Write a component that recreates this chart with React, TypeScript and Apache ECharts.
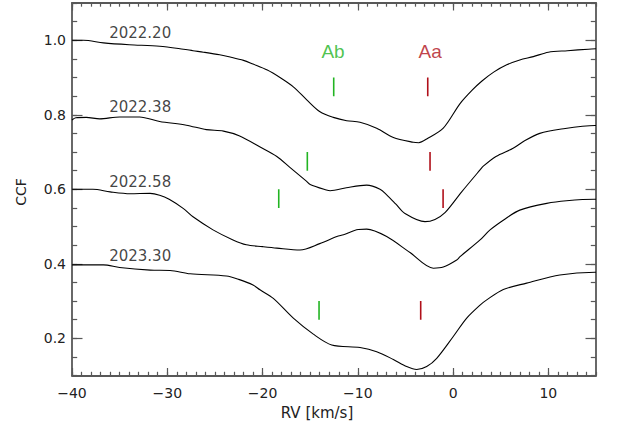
import React, { useEffect, useRef } from "react";
import * as echarts from "echarts";

// Axis ranges and tick positions
const rvMin = -40;
const rvMax = 15;
const ccfMin = 0.1;
const ccfMax = 1.1;
const rvMajorTicks = [-40, -30, -20, -10, 0, 10];
const ccfMajorTicks = [0.2, 0.4, 0.6, 0.8, 1.0];

// Cross-correlation functions, one per epoch (RV in km/s, CCF value; offset curves)
const epochs = ["2022.20", "2022.38", "2022.58", "2023.30"];

const ccf2022_20: [number, number][] = [
  [-40, 1.0], [-38.8, 1.0], [-36.7, 0.993], [-34, 0.988], [-30.8, 0.984],
  [-28.3, 0.976], [-27.3, 0.972], [-26.2, 0.968], [-24.5, 0.961], [-23.4, 0.955],
  [-22, 0.946], [-21, 0.936], [-19.5, 0.92], [-18.17, 0.9], [-16.77, 0.875],
  [-15.36, 0.84], [-13.97, 0.808], [-12.57, 0.793], [-11.17, 0.784], [-9.77, 0.78],
  [-8.02, 0.764], [-6.27, 0.739], [-4.17, 0.726], [-3.6, 0.725], [-2.77, 0.735],
  [-1.03, 0.764], [0.73, 0.83], [2.0, 0.866], [3.0, 0.89], [4.3, 0.915],
  [5.63, 0.934], [7.0, 0.947], [8.42, 0.956], [10, 0.968], [12, 0.972],
  [14.2, 0.976], [15, 0.977],
];

const ccf2022_38: [number, number][] = [
  [-40, 0.786], [-39.6, 0.792], [-38.5, 0.793], [-37.1, 0.789], [-35, 0.794],
  [-32.9, 0.794], [-30.8, 0.782], [-28, 0.772], [-25.9, 0.76], [-24.1, 0.756],
  [-22.4, 0.743], [-20.3, 0.714], [-18.5, 0.688], [-17.1, 0.658], [-15.4, 0.622],
  [-15.0, 0.613], [-13.3, 0.598], [-12.9, 0.596], [-11.2, 0.604], [-9.07, 0.611],
  [-7.67, 0.6], [-6.97, 0.585], [-6.0, 0.56], [-5.05, 0.535], [-2.95, 0.513],
  [-1.9, 0.519], [-0.85, 0.537], [0.9, 0.593], [2.83, 0.652], [3.17, 0.662],
  [4.5, 0.688], [6.3, 0.71], [7.5, 0.73], [9.1, 0.75], [11.2, 0.761],
  [14.9, 0.771], [15, 0.771],
];

const ccf2022_58: [number, number][] = [
  [-40, 0.6], [-37.8, 0.6], [-36, 0.593], [-33.9, 0.588], [-31.8, 0.589],
  [-30.8, 0.584], [-29.8, 0.573], [-28.3, 0.548], [-27.3, 0.526], [-25.2, 0.491],
  [-23.1, 0.464], [-21.7, 0.451], [-20, 0.446], [-18.5, 0.442], [-16.07, 0.437],
  [-14, 0.454], [-12.2, 0.473], [-11.5, 0.478], [-9.95, 0.492], [-9.07, 0.493],
  [-6.97, 0.473], [-4.52, 0.43], [-2.07, 0.388], [-1.03, 0.391], [0.38, 0.41],
  [0.73, 0.419], [2.83, 0.464], [3.88, 0.491], [5.5, 0.521], [7.0, 0.544],
  [9.83, 0.562], [11.9, 0.569], [14.9, 0.573], [15, 0.573],
];

const ccf2023_30: [number, number][] = [
  [-40, 0.397], [-36.7, 0.397], [-35, 0.39], [-31.8, 0.383], [-29.7, 0.382],
  [-27.6, 0.373], [-23.8, 0.367], [-22.5, 0.358], [-21, 0.343], [-20.27, 0.33],
  [-18.87, 0.307], [-16.77, 0.254], [-14.67, 0.211], [-12.74, 0.182], [-9.77, 0.175],
  [-8.02, 0.164], [-6.27, 0.143], [-4.87, 0.124], [-3.82, 0.116], [-2.77, 0.124],
  [-1.72, 0.146], [0.0, 0.204], [1.43, 0.254], [2.83, 0.289], [3.53, 0.303],
  [5.27, 0.331], [7.72, 0.348], [11.2, 0.37], [14.9, 0.377], [15, 0.377],
];

const ccfCurves = [ccf2022_20, ccf2022_38, ccf2022_58, ccf2023_30];

// Epoch label anchors (bottom-left of each label)
const epochLabelRv = -36.1;
const epochLabelCcf = [1.0, 0.8, 0.6, 0.4];

// Component velocities marked on each curve
const abVelocity = [-12.53, -15.3, -18.3, -14.07];
const aaVelocity = [-2.66, -2.42, -1.05, -3.4];
const markerBase = [0.85, 0.65, 0.55, 0.25];
const markerHeight = 0.05;

// Component names shown above the top curve
const componentNames = ["Ab", "Aa"];
const componentLabelRv = [-12.6, -2.4];
const componentLabelCcf = 0.97;

const GREEN = "#22b422";
const RED = "#b0101a";
const AXIS = "#585858";
const TEXT = "#222";
const FONT = "DejaVu Sans";

const minus = (v: number) => String(v).replace("-", "\u2212");

export default function App() {
  const ref = useRef<HTMLDivElement>(null);

  useEffect(() => {
    if (!ref.current) return;
    const chart = echarts.init(ref.current, null, { renderer: "svg" });

    const frameLine = { show: true, onZero: false, lineStyle: { color: AXIS, width: 1.8 } };
    const noLine = { show: false, onZero: false };
    const tickStyle = { color: AXIS, width: 1.2 };

    const xCommon = { type: "value" as const, min: rvMin, max: rvMax, splitLine: { show: false } };
    const yCommon = { type: "value" as const, min: ccfMin, max: ccfMax, splitLine: { show: false } };

    const curveSeries = ccfCurves.map((data, i) => ({
      type: "line",
      name: epochs[i],
      data,
      xAxisIndex: 0,
      yAxisIndex: 0,
      showSymbol: false,
      smooth: 0.3,
      lineStyle: { color: "#000", width: 1.1 },
      silent: true,
      z: 3,
    }));

    const markerSeries: any[] = [];
    ccfCurves.forEach((_, i) => {
      [
        { v: abVelocity[i], c: GREEN },
        { v: aaVelocity[i], c: RED },
      ].forEach((m) => {
        markerSeries.push({
          type: "line",
          data: [
            [m.v, markerBase[i]],
            [m.v, markerBase[i] + markerHeight],
          ],
          xAxisIndex: 0,
          yAxisIndex: 0,
          showSymbol: false,
          lineStyle: { color: m.c, width: 1.6 },
          silent: true,
          z: 4,
        });
      });
    });

    const epochLabelSeries = {
      type: "scatter",
      xAxisIndex: 0,
      yAxisIndex: 0,
      symbolSize: 0,
      silent: true,
      data: epochs.map((e, i) => ({ name: e, value: [epochLabelRv, epochLabelCcf[i]] })),
      label: {
        show: true,
        formatter: "{b}",
        position: [0, 0],
        align: "left",
        verticalAlign: "bottom",
        color: "#111",
        fontFamily: FONT,
        fontSize: 15,
      },
      z: 5,
    };

    const componentLabelSeries = {
      type: "scatter",
      xAxisIndex: 0,
      yAxisIndex: 0,
      symbolSize: 0,
      silent: true,
      data: componentNames.map((n, i) => ({
        name: n,
        value: [componentLabelRv[i], componentLabelCcf],
        label: { color: i === 0 ? GREEN : RED },
      })),
      label: {
        show: true,
        formatter: "{b}",
        position: [0, 0],
        align: "center",
        verticalAlign: "middle",
        fontFamily: "Liberation Sans",
        fontSize: 19,
      },
      z: 5,
    };

    chart.setOption({
      animation: false,
      backgroundColor: "#fff",
      grid: { left: 72, top: 3, right: 21, bottom: 53.5, containLabel: false },
      xAxis: [
        {
          ...xCommon,
          position: "bottom",
          axisLine: frameLine,
          axisTick: { show: true, inside: true, length: 7.5, customValues: rvMajorTicks, lineStyle: tickStyle },
          axisLabel: {
            show: true,
            customValues: rvMajorTicks,
            formatter: (v: number) => minus(v),
            margin: 10,
            color: TEXT,
            fontFamily: FONT,
            fontSize: 14,
          },
        },
        {
          ...xCommon,
          position: "bottom",
          interval: 1,
          axisLine: noLine,
          axisTick: { show: true, inside: true, length: 3.7, lineStyle: tickStyle },
          axisLabel: { show: false },
        },
        {
          ...xCommon,
          position: "top",
          axisLine: frameLine,
          axisTick: { show: true, inside: true, length: 7.5, customValues: rvMajorTicks, lineStyle: tickStyle },
          axisLabel: { show: false },
        },
        {
          ...xCommon,
          position: "top",
          interval: 1,
          axisLine: noLine,
          axisTick: { show: true, inside: true, length: 3.7, lineStyle: tickStyle },
          axisLabel: { show: false },
        },
      ],
      yAxis: [
        {
          ...yCommon,
          position: "left",
          axisLine: frameLine,
          axisTick: { show: true, inside: true, length: 10.5, customValues: ccfMajorTicks, lineStyle: tickStyle },
          axisLabel: {
            show: true,
            customValues: ccfMajorTicks,
            formatter: (v: number) => v.toFixed(1),
            margin: 6,
            color: TEXT,
            fontFamily: FONT,
            fontSize: 14,
          },
        },
        {
          ...yCommon,
          position: "left",
          interval: 0.05,
          axisLine: noLine,
          axisTick: { show: true, inside: true, length: 5.2, lineStyle: tickStyle },
          axisLabel: { show: false },
        },
        {
          ...yCommon,
          position: "right",
          axisLine: frameLine,
          axisTick: { show: true, inside: true, length: 10.5, customValues: ccfMajorTicks, lineStyle: tickStyle },
          axisLabel: { show: false },
        },
        {
          ...yCommon,
          position: "right",
          interval: 0.05,
          axisLine: noLine,
          axisTick: { show: true, inside: true, length: 5.2, lineStyle: tickStyle },
          axisLabel: { show: false },
        },
      ],
      graphic: [
        {
          type: "text",
          x: 21,
          y: 192,
          rotation: Math.PI / 2,
          style: { text: "CCF", align: "center", verticalAlign: "middle", fill: TEXT, font: `14px "${FONT}"` },
        },
        {
          type: "text",
          x: 317,
          y: 413,
          style: { text: "RV [km/s]", align: "center", verticalAlign: "middle", fill: TEXT, font: `15px "${FONT}"` },
        },
      ],
      series: [...curveSeries, ...markerSeries, epochLabelSeries, componentLabelSeries],
    });

    return () => chart.dispose();
  }, []);

  return (
    <div
      ref={ref}
      style={{ position: "fixed", left: 0, top: 0, width: 617, height: 429, background: "#fff" }}
    />
  );
}
